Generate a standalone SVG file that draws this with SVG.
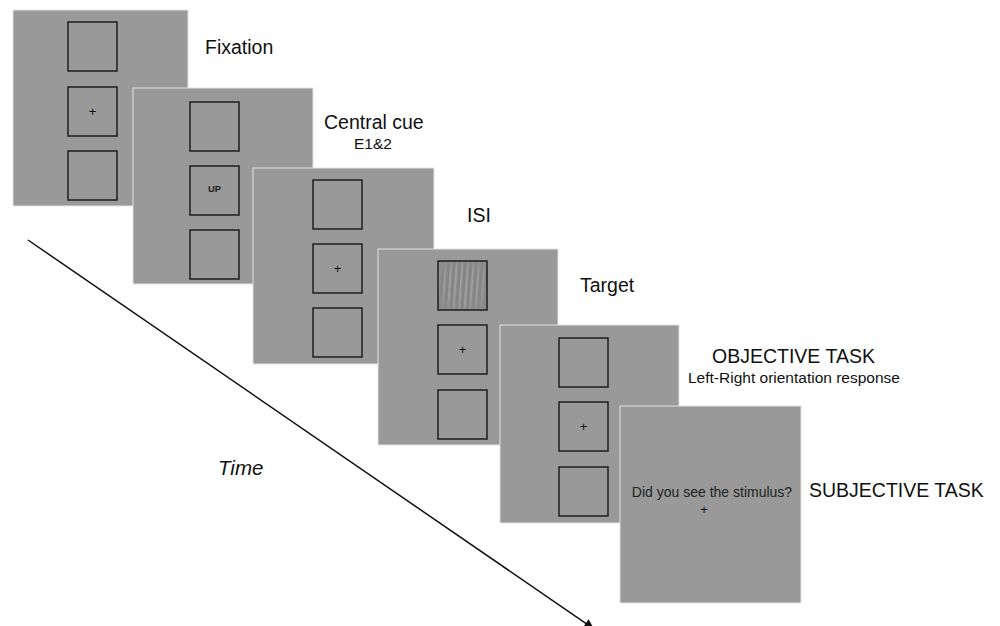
<svg xmlns="http://www.w3.org/2000/svg" width="1000" height="626" viewBox="0 0 1000 626">
  <style>
    .panel { fill: #989998; stroke: #e2e2e2; stroke-width: 1; }
    .sq { fill: none; stroke: #1e1e1e; stroke-width: 1.5; }
    .lbl { font-family: "Liberation Sans", Arial, sans-serif; fill: #111; }
    .big { font-size: 19.5px; }
    .sub { font-size: 15.5px; }
    .plus { font-family: "Liberation Sans", Arial, sans-serif; font-size: 13px; fill: #111; text-anchor: middle; }
  </style>
  <defs>
    <pattern id="grating" patternUnits="userSpaceOnUse" width="5.5" height="60" patternTransform="rotate(4)">
      <rect x="0" y="0" width="5.5" height="60" fill="#858585"/>
      <rect x="0" y="0" width="2.2" height="60" fill="#9e9e9e"/>
    </pattern>
    <radialGradient id="fade" cx="0.5" cy="0.5" r="0.6">
      <stop offset="0.55" stop-color="#8c8c8c" stop-opacity="0"/>
      <stop offset="1" stop-color="#8c8c8c" stop-opacity="0.85"/>
    </radialGradient>
    <marker id="arrow" viewBox="0 0 10 10" refX="10" refY="5" markerWidth="14" markerHeight="10" orient="auto" markerUnits="userSpaceOnUse">
      <path d="M0,0 L10,5 L0,10 z" fill="#111"/>
    </marker>
  </defs>

  <rect x="0" y="0" width="1000" height="626" fill="#ffffff"/>

  <g id="connectors">
    <line x1="28" y1="240" x2="594" y2="629" stroke="#111" stroke-width="1.5" marker-end="url(#arrow)"/>
  </g>

  <g id="fixation">
    <rect class="panel" x="13" y="10" width="175" height="196"/>
    <rect class="sq" x="68" y="22" width="49" height="49"/>
    <rect class="sq" x="68" y="87" width="49" height="49"/>
    <rect class="sq" x="68" y="151" width="49" height="49"/>
    <text class="plus" x="92.5" y="116">+</text>
  </g>

  <g id="central-cue">
    <rect class="panel" x="133" y="88" width="180" height="196"/>
    <rect class="sq" x="190" y="102" width="49" height="49"/>
    <rect class="sq" x="190" y="166" width="49" height="49"/>
    <rect class="sq" x="190" y="230" width="49" height="49"/>
    <text x="214.5" y="192" font-family="Liberation Sans, Arial, sans-serif" font-size="9.5" font-weight="bold" fill="#222" text-anchor="middle">UP</text>
  </g>

  <g id="isi">
    <rect class="panel" x="253" y="168" width="181" height="196"/>
    <rect class="sq" x="313" y="180" width="49" height="49"/>
    <rect class="sq" x="313" y="244" width="49" height="49"/>
    <rect class="sq" x="313" y="308" width="49" height="49"/>
    <text class="plus" x="337.5" y="273">+</text>
  </g>

  <g id="target">
    <rect class="panel" x="378" y="249" width="180" height="196"/>
    <rect x="438" y="261" width="49" height="49" fill="url(#grating)"/>
    <rect x="438" y="261" width="49" height="49" fill="url(#fade)"/>
    <rect class="sq" x="438" y="261" width="49" height="49"/>
    <rect class="sq" x="438" y="325" width="49" height="49"/>
    <rect class="sq" x="438" y="390" width="49" height="49"/>
    <text class="plus" x="462.5" y="354">+</text>
  </g>

  <g id="objective-task">
    <rect class="panel" x="500" y="325" width="179" height="198"/>
    <rect class="sq" x="559" y="338" width="49" height="49"/>
    <rect class="sq" x="559" y="402" width="49" height="49"/>
    <rect class="sq" x="559" y="467" width="49" height="49"/>
    <text class="plus" x="583.5" y="431">+</text>
  </g>

  <g id="subjective-task">
    <rect class="panel" x="620" y="406" width="181" height="197"/>
    <text x="712" y="497" font-family="Liberation Sans, Arial, sans-serif" font-size="14" fill="#222" text-anchor="middle">Did you see the stimulus?</text>
    <text class="plus" x="704" y="514" font-size="14">+</text>
  </g>

  <g id="labels">
    <text class="lbl big" x="205" y="54">Fixation</text>
    <text class="lbl big" x="324" y="129">Central cue</text>
    <text class="lbl sub" x="354" y="149">E1&amp;2</text>
    <text class="lbl big" x="467" y="222">ISI</text>
    <text class="lbl big" x="580" y="292">Target</text>
    <text class="lbl big" x="712" y="363">OBJECTIVE TASK</text>
    <text class="lbl sub" x="688" y="383">Left-Right orientation response</text>
    <text class="lbl big" x="809" y="497">SUBJECTIVE TASK</text>
    <text class="lbl" x="218" y="475" font-size="20.5" font-style="italic">Time</text>
  </g>
</svg>
